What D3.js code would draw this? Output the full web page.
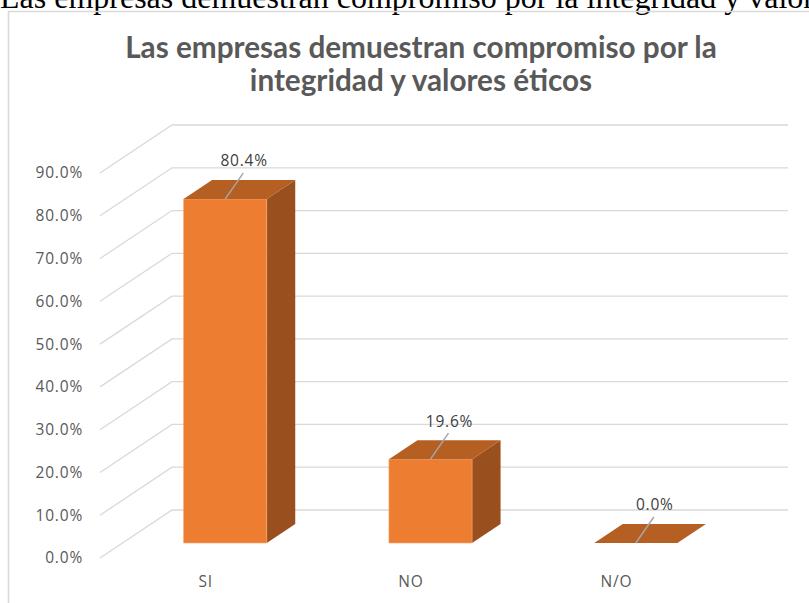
<!DOCTYPE html>
<html>
<head>
<meta charset="utf-8">
<script src="https://cdn.jsdelivr.net/npm/d3@7"></script>
<style>
  html, body { margin: 0; padding: 0; background: #fff; overflow: hidden; }
  svg { display: block; }
</style>
</head>
<body>
<svg id="chart" width="809" height="603"></svg>
<script>
// Survey result: share of answers per category
const categories = ["SI", "NO", "N/O"];
const values = [0.804, 0.196, 0.0];
const tickValues = [0, 0.1, 0.2, 0.3, 0.4, 0.5, 0.6, 0.7, 0.8, 0.9];
const titleLines = ["Las empresas demuestran compromiso por la", "integridad y valores éticos"];
const captionText = "Las empresas demuestran compromiso por la integridad y valores éticos";

const svg = d3.select("#chart");
const W = 809, H = 603;

// 3D projection: floor depth shifts back points right and up
const depthX = 72, depthY = -48;
const floorLeft = 100, floorRight = 716;

const y = d3.scaleLinear().domain([0, 0.9]).range([558, 173]);
const x = d3.scaleBand().domain(categories).range([floorLeft, floorRight])
  .paddingInner(0.595).paddingOuter(0.2975);

// bar sits in the middle of the floor depth
const barFront = 15 / 48, barBack = 34 / 48;

const fmt = d3.format(".1%");
const gridColor = "#D9D9D9";
const textColor = "#595959";
const labelFont = "'Open Sans', sans-serif";
const labelSize = 15.5;
const labelSpacing = 0.8;

// caption line above the chart frame
svg.append("text")
  .attr("x", 0).attr("y", 8)
  .attr("font-family", "'Liberation Serif', 'Times New Roman', serif")
  .attr("font-size", 32)
  .attr("fill", "#000")
  .text(captionText);

// chart frame
svg.append("path")
  .attr("d", `M8.5,${H + 2} L8.5,11.5 L${W + 2},11.5`)
  .attr("fill", "none")
  .attr("stroke", gridColor)
  .attr("stroke-width", 1.6);

// title, sized so the first line spans the width it needs
const title = svg.append("g")
  .attr("font-family", "Lato, 'Open Sans', sans-serif")
  .attr("font-weight", 700)
  .attr("fill", textColor)
  .attr("text-anchor", "middle");
const t1 = title.append("text")
  .attr("x", 421).attr("y", 58)
  .attr("font-size", 24)
  .text(titleLines[0]);
const titleSize = 24 * 592 / t1.node().getComputedTextLength();
t1.attr("font-size", titleSize);
title.append("text")
  .attr("x", 421).attr("y", 91)
  .attr("font-size", titleSize)
  .text(titleLines[1]);

// gridlines: diagonal on the left side wall, horizontal on the back wall
svg.append("g").selectAll("path").data(tickValues).join("path")
  .attr("d", v => {
    const yf = y(v);
    return `M${floorLeft},${yf} L${floorLeft + depthX},${yf + depthY} L${floorRight + depthX},${yf + depthY}`;
  })
  .attr("fill", "none")
  .attr("stroke", gridColor)
  .attr("stroke-width", 1.3);

// value axis labels
svg.append("g").selectAll("text").data(tickValues).join("text")
  .attr("x", 83)
  .attr("y", v => y(v))
  .attr("dy", "0.35em")
  .attr("text-anchor", "end")
  .attr("font-family", labelFont)
  .attr("font-size", labelSize)
  .attr("letter-spacing", labelSpacing)
  .attr("fill", textColor)
  .text(v => fmt(v));

// category labels along the front edge of the floor
svg.append("g").selectAll("text").data(categories).join("text")
  .attr("x", c => x(c) + x.bandwidth() / 2 + 3)
  .attr("y", 587)
  .attr("text-anchor", "middle")
  .attr("font-family", labelFont)
  .attr("font-size", labelSize)
  .attr("letter-spacing", labelSpacing)
  .attr("fill", textColor)
  .text(c => c);

// bars drawn as three visible faces
const data = categories.map((c, i) => ({ c, v: values[i] }));
const bars = svg.append("g").selectAll("g").data(data).join("g");

function pt(xv, yv, depth) {
  return [xv + depthX * depth, yv + depthY * depth];
}

bars.each(function (d) {
  const g = d3.select(this);
  const x0 = x(d.c), x1 = x(d.c) + x.bandwidth();
  const yb = y(0), yt = y(d.v);
  const fBL = pt(x0, yb, barFront), fBR = pt(x1, yb, barFront);
  const fTL = pt(x0, yt, barFront), fTR = pt(x1, yt, barFront);
  const bBR = pt(x1, yb, barBack);
  const bTL = pt(x0, yt, barBack), bTR = pt(x1, yt, barBack);
  const poly = p => "M" + p.map(q => q.join(",")).join("L") + "Z";

  if (d.v > 0) {
    // right side face
    g.append("path").attr("d", poly([fBR, bBR, bTR, fTR])).attr("fill", "#9A4F1E");
    // front face
    g.append("path").attr("d", poly([fBL, fBR, fTR, fTL]))
      .attr("fill", "#ED7D31").attr("stroke", "#F4A775").attr("stroke-width", 0.6);
  }
  // top face
  g.append("path").attr("d", poly([fTL, fTR, bTR, bTL])).attr("fill", "#B55F22");

  // data label with leader line
  const ax = (x0 + x1) / 2 + depthX * barFront;
  const ay = yt + depthY * barFront;
  g.append("line")
    .attr("x1", ax).attr("y1", ay)
    .attr("x2", ax + 18).attr("y2", ay - 26)
    .attr("stroke", "#A6A6A6").attr("stroke-width", 1.5);
  g.append("text")
    .attr("x", ax + 19).attr("y", ay - 38)
    .attr("dy", "0.35em")
    .attr("text-anchor", "middle")
    .attr("font-family", labelFont)
    .attr("font-size", labelSize)
    .attr("letter-spacing", labelSpacing)
    .attr("fill", "#404040")
    .text(fmt(d.v));
});
</script>
</body>
</html>
